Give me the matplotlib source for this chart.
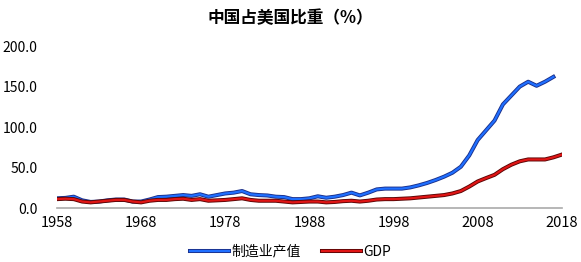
import matplotlib
matplotlib.use("Agg")
import matplotlib.pyplot as plt
import matplotlib.patheffects as pe

plt.rcParams['font.family'] = ['Noto Sans CJK SC', 'DejaVu Sans']

years_mfg = list(range(1958, 2018))
mfg = [12, 12.5, 14, 9.5, 7.5, 8, 9.5, 10.5, 10.5, 8, 8, 10.5, 13.5, 14, 15, 16, 15, 17, 14, 16,
       18, 19, 21, 17, 16, 15.5, 14, 13.5, 11, 11, 12, 14.5, 12.7, 14, 16, 19, 15.6, 19, 23, 24,
       24, 24, 25.5, 28, 31, 34.6, 38.7, 43.6, 51, 65, 84, 96, 108, 128, 139, 150, 156, 151, 156, 162]
years_gdp = list(range(1958, 2019))
gdp = [11, 11.5, 11, 8, 7, 8, 9, 10, 10, 8, 7, 9, 10, 10, 11, 11.5, 10, 11, 9, 9.5,
       10, 11, 12, 10, 9, 9, 9, 8, 7, 7.5, 8, 8, 7, 7.5, 8.5, 9, 8, 9, 10.5, 11,
       11, 11.5, 12, 13, 14, 15, 16, 18, 21, 26.5, 32.8, 37, 41, 48, 53.5, 57.7, 60, 60, 60, 62.6, 66]

xticks = [1958, 1968, 1978, 1988, 1998, 2008, 2018]
yticks = [0, 50, 100, 150, 200]
title = '中国占美国比重（%）'
labels = ['制造业产值', 'GDP']

fig = plt.figure(figsize=(5.81, 2.62), dpi=100)
ax = fig.add_axes([0.098, 0.206, 0.869, 0.618])

l1, = ax.plot(years_mfg, mfg, color='#1f6fff', lw=1.6, label=labels[0],
              path_effects=[pe.Stroke(linewidth=2.9, foreground='#1a2f8a'), pe.Normal()])
l2, = ax.plot(years_gdp, gdp, color='#e01515', lw=1.6, label=labels[1],
              path_effects=[pe.Stroke(linewidth=2.9, foreground='#5a0505'), pe.Normal()])

ax.set_xlim(1958, 2018)
ax.set_ylim(0, 200)
ax.set_xticks(xticks)
ax.set_xticklabels([str(x) for x in xticks], fontsize=10.5)
ax.set_yticks(yticks)
ax.set_yticklabels([f'{y:.1f}' for y in yticks], fontsize=10)
ax.tick_params(axis='both', length=0, pad=6)
ax.tick_params(axis='y', pad=14)
for s in ['top', 'right', 'left']:
    ax.spines[s].set_visible(False)
ax.spines['bottom'].set_color('#aaaaaa')
ax.spines['bottom'].set_linewidth(1.2)

fig.text(0.5, 0.93, title, ha='center', va='center', fontsize=12, fontweight='bold')
fig.legend(handles=[l1, l2], labels=labels, loc='center', bbox_to_anchor=(0.5, 0.04),
           ncol=2, frameon=False, fontsize=10, handlelength=2.8, handletextpad=0.2, columnspacing=1.5)

fig.savefig('out.png', dpi=100)
